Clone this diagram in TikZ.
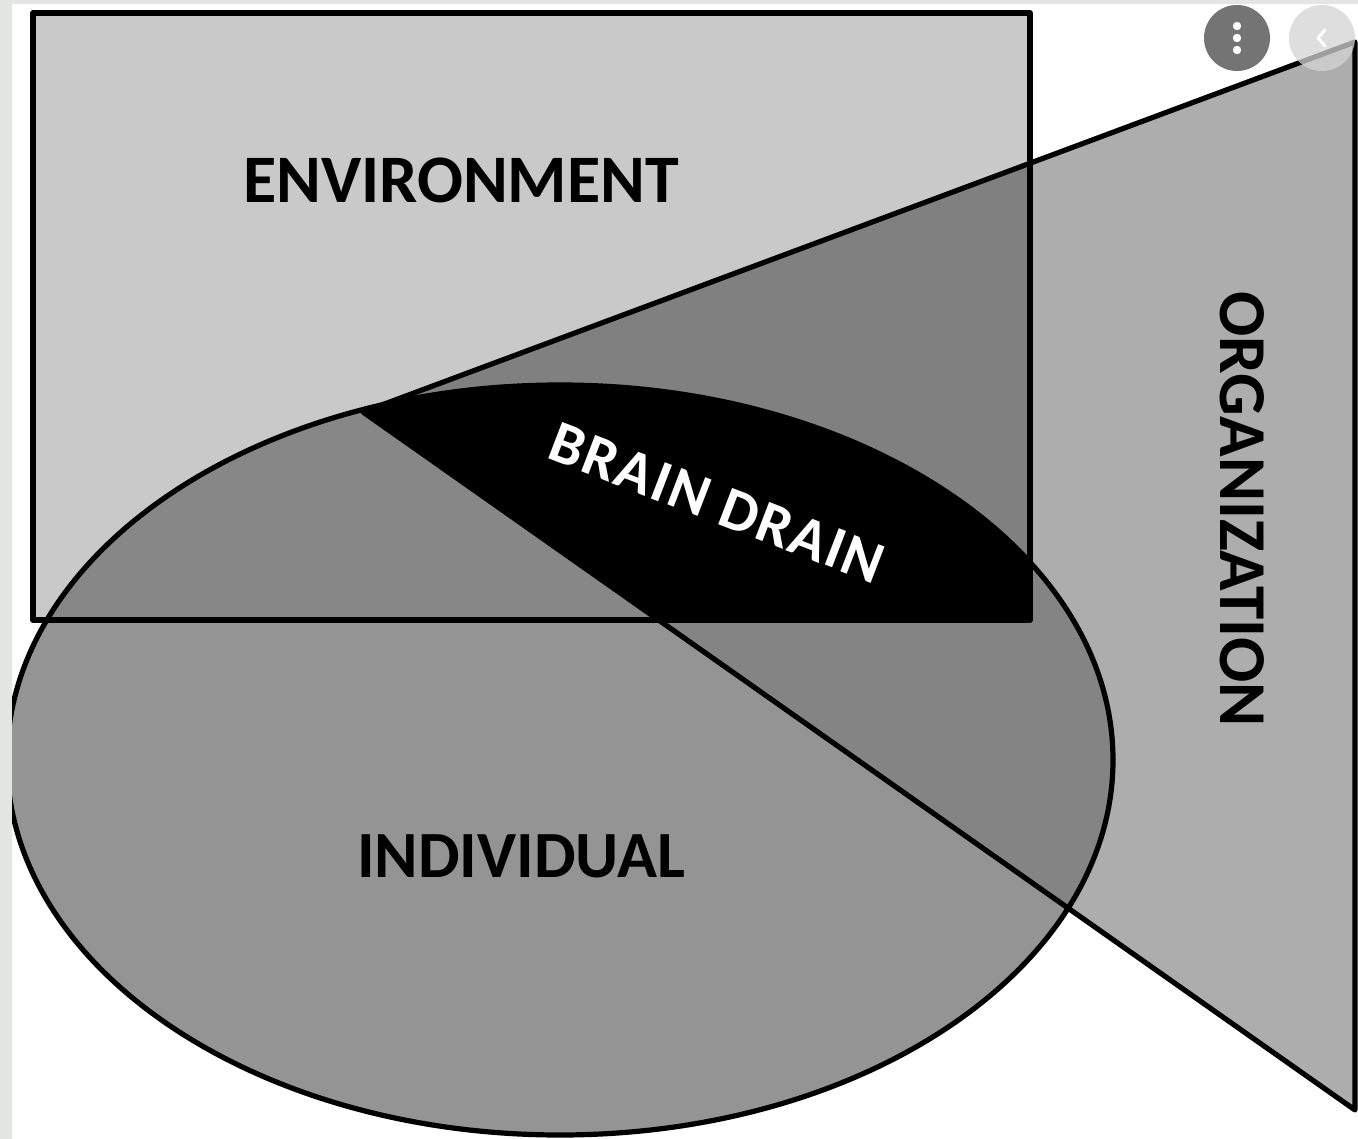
\documentclass[tikz,border=0pt]{standalone}
\usepackage{fontspec}
\newfontfamily\carl{Carlito}
\newfontfamily\carlsp[LetterSpace=3]{Carlito}
\definecolor{cStrip}{HTML}{E3E7E4}
\definecolor{cRect}{HTML}{C9C9C9}
\definecolor{cTri}{HTML}{ADADAD}
\definecolor{cEll}{HTML}{949494}
\definecolor{cRT}{HTML}{808080}
\definecolor{cRE}{HTML}{878787}
\definecolor{cTE}{HTML}{848484}
\definecolor{cBtnDark}{HTML}{747474}
\definecolor{cBtnLight}{HTML}{D4D4D4}
\tikzset{
  outline/.style={draw=black, line width=5.2pt, line join=round},
  biglabel/.style={inner sep=0pt, text=black, font=\carl\bfseries\fontsize{#1}{#1}\selectfont},
}
\begin{document}
\begin{tikzpicture}[x=1pt,y=-1pt]
\useasboundingbox (0,0) rectangle (1358,1139);
\def\rectpath{(33,13) rectangle (1030,620)}
\def\tripath{(363,412) -- (1355,42) -- (1355,1110) -- cycle}
\def\ellpath{(560,760) ellipse [x radius=553, y radius=375]}
% background
\fill[white] (0,0) rectangle (1358,1139);
% base fills
\fill[cRect] \rectpath;
\fill[cTri] \tripath;
\fill[cEll] \ellpath;
% overlaps
\begin{scope}
  \clip \rectpath;
  \fill[cRT] \tripath;
  \fill[cRE] \ellpath;
\end{scope}
\begin{scope}
  \clip \tripath;
  \fill[cTE] \ellpath;
\end{scope}
\begin{scope}
  \clip \rectpath;
  \clip \tripath;
  \fill[black] \ellpath;
\end{scope}
% outlines
\draw[outline] \rectpath;
\draw[outline] \tripath;
\draw[outline] \ellpath;
% labels
\node[biglabel=68] (env) at (461,180) {ENVIRONMENT};
\node[biglabel=66] (ind) at (521,856) {INDIVIDUAL};
\node[biglabel=67, rotate=-90] (org) at (1242,509) {ORGANIZATION};
\node[inner sep=0pt, text=white, rotate=-21, font=\carlsp\bfseries\fontsize{60}{60}\selectfont] (bd) at (717,503) {BRAIN DRAIN};
% screenshot frame strips
\fill[cStrip] (0,0) rectangle (12,1139);
\fill[cStrip] (0,0) rectangle (1358,4);
% screenshot buttons
\fill[cBtnDark] (1237,38) circle (33);
\foreach \yy in {26,38,50} \fill[white] (1237,\yy) circle (4.2);
\fill[cBtnLight, opacity=0.75] (1322,38) circle (33);
\draw[white, line width=3pt, line cap=round, line join=round] (1325,30) -- (1318,38) -- (1325,46);
\end{tikzpicture}
\end{document}
